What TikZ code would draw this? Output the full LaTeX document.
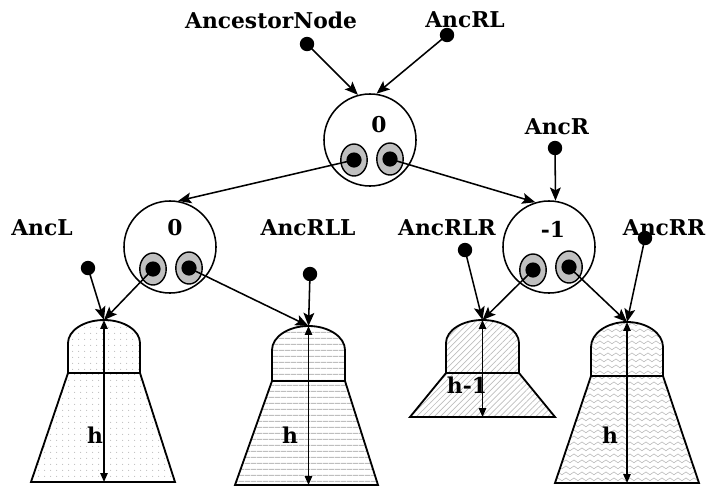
\documentclass[tikz,border=0pt]{standalone}
\usepackage{fontspec}
\setmainfont{DejaVu Serif}
\usetikzlibrary{arrows.meta,patterns.meta,shapes.geometric}
\definecolor{ptrgrey}{HTML}{C0C0C0}
\definecolor{hatchgrey}{HTML}{BEBEBE}
\tikzdeclarepattern{
  name=wavy,
  type=uncolored,
  bounding box={(0pt,0pt) and (6pt,4pt)},
  tile size={(6pt,4pt)},
  code={
    \draw[line width=0.5pt] (0pt,2pt) .. controls (1.5pt,3.4pt) .. (3pt,2pt)
      .. controls (4.5pt,0.6pt) .. (6pt,2pt);
  }
}
\tikzset{
  avlnode/.style = {circle, draw, line width=1.1pt, minimum size=2.3cm, inner sep=0pt},
  ptr/.style     = {ellipse, draw, fill=ptrgrey, line width=1pt, inner sep=0pt,
                    minimum width=0.66cm, minimum height=0.8cm,
                    path picture={\fill[black] (path picture bounding box.center) circle (0.19cm);}},
  dot/.style     = {circle, fill=black, minimum size=0.36cm, inner sep=0pt},
  lbl/.style     = {font=\bfseries\fontsize{15.5}{18}\selectfont, inner sep=0pt},
  link/.style    = {-{Stealth[length=3.3mm,width=2.7mm,inset=0.7mm]}, line width=1.1pt},
  height/.style  = {{Triangle[length=2.2mm,width=1.8mm]}-{Triangle[length=2.2mm,width=1.8mm]},
                    line width=1.1pt},
  subtree/.style = {draw, line width=1.3pt, pattern color=hatchgrey},
}
% #1 pattern, #2/#3 sides, #4 top, #5 dome start, #6 dome bottom, #7/#8 base, #9 base y
\newcommand\drawsubtree[9]{%
  \draw[subtree,pattern={#1}] (#2,#6) -- (#2,#5)
    .. controls (#2,{#5-0.55*(#5-#4)}) and ({(#2+#3)/2-0.275*(#3-#2)},#4) .. ({(#2+#3)/2},#4)
    .. controls ({(#2+#3)/2+0.275*(#3-#2)},#4) and (#3,{#5-0.55*(#5-#4)}) .. (#3,#5)
    -- (#3,#6) -- cycle;
  \draw[subtree,pattern={#1}] (#2,#6) -- (#3,#6) -- (#8,#9) -- (#7,#9) -- cycle;
}

\begin{document}
\begin{tikzpicture}[x=0.025cm,y=-0.025cm]
  \useasboundingbox (0,0) rectangle (709,487);

  % subtrees
  \drawsubtree{Dots[distance=4pt,radius=0.45pt]}{68}{140}{320}{343}{373}{31}{175}{482}
  \drawsubtree{Lines[distance=4pt,line width=0.9pt]}{272}{345}{326}{350}{381}{235}{378}{485}
  \drawsubtree{Lines[angle=45,distance=3pt,line width=0.5pt]}{446}{519}{320}{343}{373}{410}{555}{417}
  \drawsubtree{wavy}{591}{663}{322}{347}{376}{555}{699}{483}
  \coordinate (t1) at (104,320);   \coordinate (b1) at (104,482);
  \coordinate (t2) at (308.5,326); \coordinate (b2) at (308.5,485);
  \coordinate (t3) at (482.5,320); \coordinate (b3) at (482.5,417);
  \coordinate (t4) at (627,322);   \coordinate (b4) at (627,483);
  \draw[height] (t1) -- (b1);
  \draw[height] (t2) -- (b2);
  \draw[height] (t3) -- (b3);
  \draw[height] (t4) -- (b4);
  \node[lbl] (h1) at (95,435) {h};
  \node[lbl] (h2) at (290,435) {h};
  \node[lbl] (h3) at (467,385) {h-1};
  \node[lbl] (h4) at (610,435) {h};

  % tree nodes
  \node[avlnode] (root) at (370,140) {};
  \node[avlnode] (lc) at (170,247) {};
  \node[avlnode] (rc) at (549,247) {};
  \node[lbl] (rootbf) at (379,125) {0};
  \node[lbl] (lcbf) at (175,228) {0};
  \node[lbl] (rcbf) at (553,229) {-1};
  \node[ptr] (rootL) at (354,160) {};
  \node[ptr] (rootR) at (390,159) {};
  \node[ptr] (lcL) at (153,269) {};
  \node[ptr] (lcR) at (189,268) {};
  \node[ptr] (rcL) at (533,270) {};
  \node[ptr] (rcR) at (569,267) {};

  % ancestor pointers
  \node[lbl] (ancN) at (271,20) {AncestorNode};
  \node[lbl] (ancRL) at (465,20) {AncRL};
  \node[lbl] (ancR) at (557,127) {AncR};
  \node[lbl] (ancL) at (42,228) {AncL};
  \node[lbl] (ancRLL) at (308,228) {AncRLL};
  \node[lbl] (ancRLR) at (447,228) {AncRLR};
  \node[lbl] (ancRR) at (664,228) {AncRR};
  \node[dot] (ancNd) at (307,44) {};
  \node[dot] (ancRLd) at (447,35) {};
  \node[dot] (ancRd) at (555,148) {};
  \node[dot] (ancLd) at (88,268) {};
  \node[dot] (ancRLLd) at (310,274) {};
  \node[dot] (ancRLRd) at (465,250) {};
  \node[dot] (ancRRd) at (645,238) {};

  \draw[link] (ancNd.center) -- (root.105);
  \draw[link] (ancRLd.center) -- (root.82);
  \draw[link] (rootL.center) -- (lc.80);
  \draw[link] (rootR.center) -- (rc.107);
  \draw[link] (ancRd.center) -- (rc.82);
  \draw[link] (ancLd.center) -- (t1);
  \draw[link] (lcL.center) -- (t1);
  \draw[link] (ancRLLd.center) -- (t2);
  \draw[link] (lcR.center) -- (t2);
  \draw[link] (ancRLRd.center) -- (t3);
  \draw[link] (rcL.center) -- (t3);
  \draw[link] (ancRRd.center) -- (t4);
  \draw[link] (rcR.center) -- (t4);
\end{tikzpicture}
\end{document}
